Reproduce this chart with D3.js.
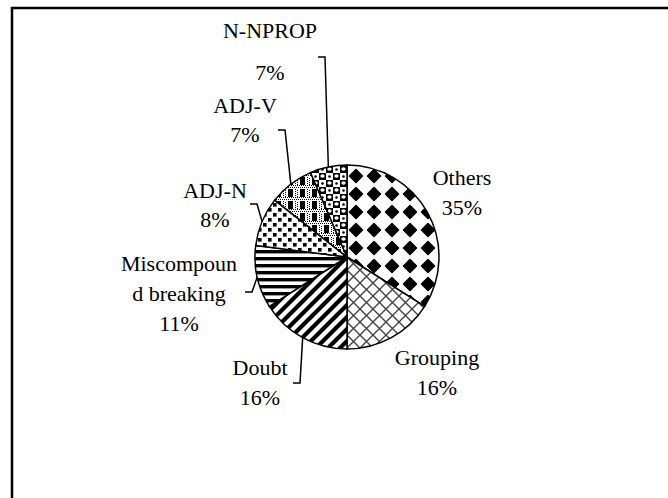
<!DOCTYPE html>
<html>
<head>
<meta charset="utf-8">
<script src="https://cdn.jsdelivr.net/npm/d3@7"></script>
<style>
	body { margin: 0; background: #fff; }
	svg { display: block; }
</style>
</head>
<body>
<script>
'use strict';

const width = 668, height = 498;

const categories = ['Others', 'Grouping', 'Doubt', 'Miscompound breaking', 'ADJ-N', 'ADJ-V', 'N-NPROP'];
const values = [34, 16, 16, 11, 8.6, 7.9, 6.5];
const pctLabels = ['35%', '16%', '16%', '11%', '8%', '7%', '7%'];
const labelLines = [['Others'], ['Grouping'], ['Doubt'], ['Miscompoun', 'd breaking'], ['ADJ-N'], ['ADJ-V'], ['N-NPROP']];

// label placement (centre x, first baseline, line step) - set by hand like the original
const labelPlace = [
	{ x: 462, y: 185, step: 30 },
	{ x: 437, y: 365, step: 30 },
	{ x: 260, y: 375, step: 30 },
	{ x: 179, y: 271, step: 30 },
	{ x: 215, y: 198, step: 29 },
	{ x: 245, y: 113, step: 29 },
	{ x: 270, y: 38, step: 42 }
];
// leader start (text side) for labels that have one
const leaderStart = [null, null, [293, 383], [245, 292], [250, 204], [278, 130], [318, 57]];

const cx = 347, cy = 257, radius = 92;

let svg = d3.select('body').append('svg')
	.attr('width', width)
	.attr('height', height);

let defs = svg.append('defs');

function pattern(id, w, h) {
	let p = defs.append('pattern')
		.attr('id', id)
		.attr('patternUnits', 'userSpaceOnUse')
		.attr('width', w)
		.attr('height', h);
	p.append('rect').attr('width', w).attr('height', h).attr('fill', '#fff');
	return p;
}

// Others: solid diamonds
let pDiam = pattern('p-diamond', 18, 18);
pDiam.append('path')
	.attr('d', 'M9,2.5 L15.5,9 L9,15.5 L2.5,9 Z')
	.attr('fill', '#000')
	.attr('stroke', '#000')
	.attr('stroke-width', 1.5)
	.attr('stroke-linejoin', 'round');

// Grouping: trellis
let pTrel = pattern('p-trellis', 13, 13);
pTrel.append('path')
	.attr('d', 'M0,0 L13,13 M13,0 L0,13')
	.attr('stroke', '#444')
	.attr('stroke-width', 1.4);

// Doubt: wide upward diagonal
let pDiag = pattern('p-diag', 12, 12);
pDiag.append('path')
	.attr('d', 'M-3,3 L3,-3 M0,12 L12,0 M9,15 L15,9')
	.attr('stroke', '#000')
	.attr('stroke-width', 4.2);

// Miscompound: horizontal stripes
let pHor = pattern('p-hor', 8, 7);
pHor.append('rect').attr('y', 0).attr('width', 8).attr('height', 3.4).attr('fill', '#000');

// ADJ-N: small squares
let pDots = pattern('p-dots', 10, 10);
pDots.append('rect').attr('x', 1).attr('y', 1).attr('width', 3.6).attr('height', 3.6).attr('fill', '#000');
pDots.append('rect').attr('x', 6).attr('y', 6).attr('width', 3.6).attr('height', 3.6).attr('fill', '#000');

// ADJ-V: plaid-ish blocks with grey dotted band
let pPlaid = pattern('p-plaid', 12, 12);
for (let i = 0; i < 6; i++) {
	pPlaid.append('rect').attr('x', i * 2).attr('y', 0).attr('width', 1).attr('height', 1).attr('fill', '#000');
	pPlaid.append('rect').attr('x', i * 2 + 1).attr('y', 2).attr('width', 1).attr('height', 1).attr('fill', '#000');
}
pPlaid.append('rect').attr('x', 1).attr('y', 4).attr('width', 5).attr('height', 8).attr('fill', '#000');
for (let j = 0; j < 4; j++) {
	pPlaid.append('rect').attr('x', 8).attr('y', 4 + j * 2).attr('width', 1).attr('height', 1).attr('fill', '#000');
	pPlaid.append('rect').attr('x', 10).attr('y', 5 + j * 2).attr('width', 1).attr('height', 1).attr('fill', '#000');
}

// N-NPROP: black cells with white spots
let pSph = pattern('p-sphere', 14, 14);
pSph.append('rect').attr('x', 0).attr('y', 0).attr('width', 7).attr('height', 7).attr('fill', '#000');
pSph.append('rect').attr('x', 7).attr('y', 7).attr('width', 7).attr('height', 7).attr('fill', '#000');
pSph.append('ellipse').attr('cx', 3.5).attr('cy', 3).attr('rx', 2.2).attr('ry', 1.7).attr('fill', '#fff');
pSph.append('ellipse').attr('cx', 10.5).attr('cy', 10).attr('rx', 2.2).attr('ry', 1.7).attr('fill', '#fff');
pSph.append('circle').attr('cx', 10.5).attr('cy', 3.5).attr('r', 1.3).attr('fill', '#000');
pSph.append('circle').attr('cx', 3.5).attr('cy', 10.5).attr('r', 1.3).attr('fill', '#000');

const fills = ['p-diamond', 'p-trellis', 'p-diag', 'p-hor', 'p-dots', 'p-plaid', 'p-sphere'];

// frame (runs off the right and bottom edges)
svg.append('rect')
	.attr('x', 12)
	.attr('y', 8)
	.attr('width', 720)
	.attr('height', 600)
	.attr('fill', 'none')
	.attr('stroke', '#000')
	.attr('stroke-width', 2.5);

let pie = d3.pie().sort(null).value(d => d);
let arcs = pie(values);
let arc = d3.arc().innerRadius(0).outerRadius(radius);

let g = svg.append('g').attr('transform', `translate(${cx},${cy})`);

g.selectAll('path.slice')
	.data(arcs)
	.join('path')
	.attr('class', 'slice')
	.attr('d', arc)
	.attr('fill', (d, i) => `url(#${fills[i]})`)
	.attr('stroke', '#000')
	.attr('stroke-width', 1.5)
	.attr('stroke-linejoin', 'round');

// leader lines to the rim at each slice's mid angle
arcs.forEach((a, i) => {
	let s = leaderStart[i];
	if (!s) return;
	let mid = (a.startAngle + a.endAngle) / 2;
	let ex = cx + radius * Math.sin(mid);
	let ey = cy - radius * Math.cos(mid);
	svg.append('path')
		.attr('d', d3.line()([[s[0], s[1]], [s[0] + 7, s[1]], [ex, ey]]))
		.attr('fill', 'none')
		.attr('stroke', '#000')
		.attr('stroke-width', 1.5);
});

// labels
categories.forEach((c, i) => {
	let p = labelPlace[i];
	let lines = labelLines[i].concat([pctLabels[i]]);
	let t = svg.append('text')
		.attr('font-family', '"Liberation Serif", "Times New Roman", serif')
		.attr('font-size', 22)
		.attr('fill', '#000')
		.attr('text-anchor', 'middle');
	lines.forEach((l, j) => {
		t.append('tspan')
			.attr('x', p.x)
			.attr('y', p.y + j * p.step)
			.text(l);
	});
});
</script>
</body>
</html>
